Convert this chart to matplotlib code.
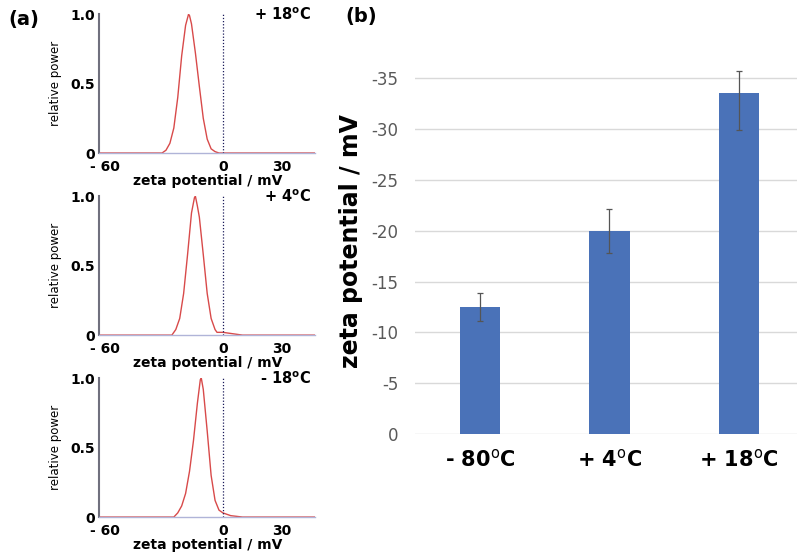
import numpy as np
import matplotlib
matplotlib.use('Agg')
import matplotlib.pyplot as plt

# (a) zeta potential distributions
temps_a = ['+ 18', '+ 4', '- 18']

x_18 = [-63, -31, -29, -27, -25, -23, -21, -19, -17.5, -17, -16, -14, -12, -10, -8, -6, -4, -2, 47]
y_18 = [0, 0, 0.02, 0.07, 0.18, 0.40, 0.70, 0.92, 1.0, 0.99, 0.93, 0.72, 0.48, 0.25, 0.10, 0.03, 0.01, 0, 0]

x_4 = [-63, -26, -24, -22, -20, -18, -16, -14.5, -14, -13, -12, -10, -8, -6, -4, -3, 0, 5, 10, 47]
y_4 = [0, 0, 0.04, 0.12, 0.30, 0.58, 0.88, 0.99, 1.0, 0.93, 0.85, 0.58, 0.30, 0.12, 0.04, 0.02, 0.02, 0.01, 0, 0]

x_m18 = [-63, -25, -23, -21, -19, -17, -15, -13, -11.5, -11, -10, -8, -6, -4, -2, 0, 4, 10, 47]
y_m18 = [0, 0, 0.03, 0.08, 0.17, 0.33, 0.55, 0.82, 0.99, 1.0, 0.92, 0.62, 0.30, 0.12, 0.05, 0.03, 0.01, 0, 0]

curves = [(x_18, y_18), (x_4, y_4), (x_m18, y_m18)]

# (b) mean zeta potential per storage temperature
temps_b = ['- 80', '+ 4', '+ 18']
zeta = [-12.5, -20.0, -33.5]
err_low = [1.4, 2.2, 3.6]
err_high = [1.4, 2.1, 2.2]

fig = plt.figure(figsize=(8, 5.53), dpi=100)

narrow = ['Liberation Sans Narrow', 'DejaVu Sans Condensed', 'DejaVu Sans']

bottoms = [0.7233, 0.394, 0.065]
for i, (xs, ys) in enumerate(curves):
    ax = fig.add_axes([0.124, bottoms[i], 0.27, 0.251])
    ax.plot(xs, ys, color='#d84a4a', lw=1.0)
    ax.axvline(0, color='#1a1a5a', lw=0.9, ls=(0, (1, 1.5)))
    ax.set_xlim(-63, 47)
    ax.set_ylim(0, 1.0)
    for s in ['top', 'right']:
        ax.spines[s].set_visible(False)
    ax.spines['left'].set_color('#70707e')
    ax.spines['left'].set_linewidth(1.5)
    ax.spines['bottom'].set_color('#b0b4d8')
    ax.spines['bottom'].set_linewidth(1.0)
    ax.set_xticks([-60, 0, 30])
    ax.set_xticklabels(['- 60', '0', '30'], fontweight='bold', fontsize=10)
    ax.set_yticks([0, 0.5, 1.0])
    ax.set_yticklabels(['0', '0.5', '1.0'], fontweight='bold', fontsize=10)
    ax.tick_params(length=0)
    ax.tick_params(axis='x', pad=5)
    ax.tick_params(axis='y', pad=3)
    ax.set_xlabel('zeta potential / mV', fontweight='bold', fontsize=10, labelpad=0)
    ax.set_ylabel('relative power', family=narrow, fontsize=8.5, labelpad=6)
    ax.text(0.98, 1.0, temps_a[i] + r'$^{\bf o}$C', transform=ax.transAxes,
            ha='right', va='center', fontweight='bold', fontsize=10.5)

fig.text(0.01, 0.965, '(a)', fontsize=14, fontweight='bold', va='center')
fig.text(0.432, 0.97, '(b)', fontsize=14, fontweight='bold', va='center')

# (b) bar chart
bx = fig.add_axes([0.519, 0.215, 0.4775, 0.699])
pos = np.arange(len(zeta))
bx.bar(pos, zeta, width=0.31, color='#4a72b8', zorder=2)
bx.errorbar(pos, zeta, yerr=[err_high, err_low], fmt='none', ecolor='#555555',
            elinewidth=0.9, capsize=2, capthick=0.9, zorder=3)
bx.set_xlim(-0.5, 2.45)
bx.set_ylim(0, -38)
bx.set_yticks([0, -5, -10, -15, -20, -25, -30, -35])
bx.set_yticklabels(['0', '-5', '-10', '-15', '-20', '-25', '-30', '-35'],
                   family=narrow, fontsize=12, color='#595959')
bx.yaxis.grid(True, color='#d9d9d9', lw=1.0, zorder=0)
bx.set_xticks(pos)
bx.set_xticklabels([t + r'$^{\rm o}$C' for t in temps_b], family=narrow,
                   fontweight='bold', fontsize=15)
bx.tick_params(length=0, pad=10)
bx.tick_params(axis='y', pad=12)
for s in bx.spines.values():
    s.set_visible(False)
bx.set_ylabel('zeta potential / mV', fontweight='bold', fontsize=17, labelpad=6)

fig.savefig('out.png', dpi=100)
